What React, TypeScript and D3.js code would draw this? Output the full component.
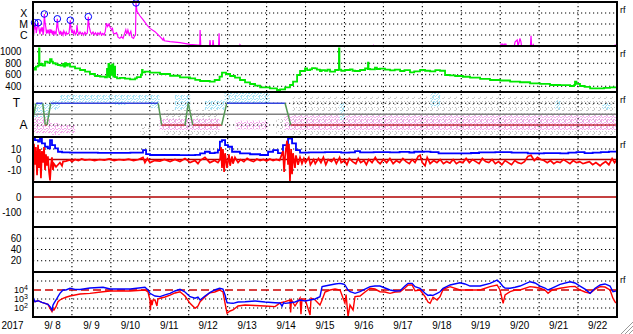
import React from 'react';
import * as d3 from 'd3';

// ---------------- DATA ----------------
const yearLabel = '2017';
const dayLabels = ['9/ 8', '9/ 9', '9/10', '9/11', '9/12', '9/13', '9/14', '9/15', '9/16', '9/17', '9/18', '9/19', '9/20', '9/21', '9/22'];

// GOES X-ray flux [hour since 9/8 00UT, W/m2]
const xrayFlux: [number, number][] = [
  [0, 2e-6], [0.3, 4e-6], [0.5, 1.2e-6], [0.7, 6e-6], [1.0, 1.3e-5], [1.5, 3e-6], [1.8, 6e-6], [2.0, 1.5e-6], [2.5, 4e-6],
  [3.2, 1.3e-5], [3.8, 3e-6], [4.3, 1.2e-6], [4.6, 3e-6], [5.0, 4e-6], [5.5, 2e-6], [5.8, 5e-6], [6.2, 1.0e-6], [6.6, 2.5e-6],
  [7.0, 8.1e-5], [7.4, 1.5e-5], [8.0, 4e-6], [8.3, 1.3e-6], [8.6, 3e-6], [9.0, 1.8e-6], [9.5, 2.5e-6], [10.0, 1.2e-6],
  [10.5, 3.5e-6], [11.0, 1.5e-6], [11.5, 3e-6], [12.0, 1.1e-6], [12.5, 2.4e-6], [13.0, 1.2e-6], [13.5, 2e-6], [14.2, 1.2e-6],
  [15.0, 2.95e-5], [15.4, 5e-6], [16.0, 2e-6], [16.5, 1.1e-6], [17, 2.4e-6], [17.5, 1.2e-6], [18, 1.6e-6], [18.5, 1.0e-6],
  [19, 2.3e-6], [20, 1.1e-6], [20.5, 1.8e-6], [21, 1.2e-6], [22.2, 1.5e-6], [23.0, 2.2e-5], [23.4, 4e-6], [24, 1.5e-6],
  [24.5, 2.6e-6], [25, 1.3e-6], [25.6, 2.2e-6], [26.2, 1.1e-6], [26.8, 1.5e-6], [27.1, 8e-6], [27.6, 2e-6], [28.3, 1.1e-6],
  [29, 1.9e-6], [29.8, 1.2e-6], [30.5, 1.6e-6], [31.2, 1.0e-6], [32, 1.8e-6], [32.8, 1.2e-6], [33.5, 1.5e-6], [34.1, 4.6e-5],
  [34.6, 6e-6], [35.4, 2e-6], [36.2, 1.2e-6], [37, 1.9e-6], [37.8, 1.1e-6], [38.5, 1.6e-6], [39.2, 1.0e-6], [40, 1.6e-6],
  [40.8, 1.1e-6], [41.5, 1.8e-6], [42.2, 1.0e-6], [43, 1.4e-6], [43.8, 1.0e-6], [44.5, 2e-6], [45.3, 1.2e-5], [46, 6e-6],
  [46.8, 1e-5], [47.5, 5e-6], [48.5, 3e-6], [49.0, 4e-6], [49.5, 1.5e-6], [50.5, 1.3e-6], [51.5, 1.6e-6], [52.5, 6e-7],
  [53.5, 5e-7], [54.5, 7e-7], [55.5, 5e-7], [56.5, 1.4e-6], [57.2, 3e-6], [57.8, 1.2e-6], [58.5, 2.8e-6], [59.3, 1e-6],
  [60.3, 2.2e-6], [61.0, 6e-7], [62.0, 5e-7], [62.6, 8e-7], [63.2, 1e-6], [63.5, 8.2e-4], [64.1, 1.4e-4], [65.9, 5.6e-5],
  [67.8, 2.5e-5], [70.3, 8e-6], [72.1, 4e-6], [75.2, 2e-6], [78.3, 7e-7], [80.1, 3.5e-7], [80.5, 5e-7], [81, 3e-7],
  [84.5, 2.5e-7], [90.6, 2e-7], [96.8, 1.4e-7], [101.7, 1.2e-7], [102.8, 1.2e-7], [103, 2.8e-6], [103.4, 1.2e-7], [104, 1e-7],
  [106, 1.05e-7], [108.8, 1.0e-7], [109.1, 3.5e-7], [109.5, 1e-7], [110.7, 1e-7], [111, 3.5e-7], [111.4, 1e-7], [114.4, 9e-8],
  [114.7, 1.4e-6], [115, 8e-8], [116, 8e-8], [125.1, 1.05e-7], [125.5, 8e-8], [127.3, 8e-8], [127.6, 1.3e-7], [128.5, 8e-8],
  [136.2, 1.05e-7], [137, 8e-8], [209.6, 8e-8], [209.8, 1.05e-7], [210.2, 8e-8], [288.3, 8e-8], [288.5, 1.5e-7],
  [289.5, 1.5e-7], [290, 8e-8], [290.5, 1.5e-7], [291.5, 1.5e-7], [292, 8e-8], [296.5, 8e-8], [297.2, 2.4e-7], [298.5, 3.5e-7],
  [299, 9e-8], [300.2, 5e-7], [300.8, 2.4e-7], [301.2, 8e-8], [306.6, 8e-8], [307, 8.7e-7], [307.4, 8e-8], [308.4, 1.3e-7],
  [308.8, 8e-8], [352.4, 8e-8], [352.6, 1.05e-7], [352.8, 8e-8], [358.5, 8e-8], [358.8, 1.2e-7], [360, 1.2e-7],
];
const flareMarks: [number, number][] = [[1.0, 1.3e-5], [3.2, 1.3e-5], [7.0, 8.1e-5], [15.0, 2.95e-5], [23.0, 2.2e-5], [34.1, 4.6e-5], [63.5, 8.2e-4]];
const xrayClassLabels = ['C', 'M', 'X'];
const xrayClassFlux = [1e-6, 1e-5, 1e-4];

// Solar wind speed [hour, km/s]
const windSpeed: [number, number][] = [
  [0, 720], [1, 690], [1.8, 740], [3.0, 760], [3.7, 1060], [4.0, 770], [5, 790], [6, 760], [7.4, 827], [9, 810], [10.5, 870],
  [11.5, 830], [12.3, 800], [14, 780], [15.4, 770], [17, 760], [18.5, 790], [19.2, 740], [19.7, 800], [20.5, 760], [21.5, 790],
  [22.8, 740], [25.9, 712], [29, 683], [32.1, 653], [35.1, 613], [38.2, 578], [41.3, 566], [44.4, 555], [45.6, 700], [46, 580],
  [46.5, 790], [47, 560], [47.5, 760], [48.2, 600], [48.8, 780], [49.5, 570], [50, 740], [50.6, 560], [51.8, 538], [53.6, 545],
  [56.7, 531], [59.8, 521], [62.9, 538], [64, 560], [66.5, 600], [67.2, 683], [67.6, 640], [69, 653], [72.1, 636], [78.3, 613],
  [84.5, 583], [90.6, 555], [96.8, 538], [100, 510], [103, 491], [109, 479], [112, 509], [115, 566], [116.5, 636], [119, 613],
  [121.5, 578], [124.5, 549], [127.6, 509], [130.7, 469], [133.8, 439], [136.9, 410], [140, 382], [146, 364], [150.4, 335],
  [152.3, 345], [155.4, 382], [158.4, 422], [160.3, 479], [162.8, 596], [164.6, 665], [167.7, 712], [169, 680], [170.8, 694],
  [172, 715], [173.9, 712], [175, 690], [176.9, 665], [178, 680], [180, 670], [181.5, 690], [183.1, 653], [186.2, 683],
  [188.4, 690], [188.6, 1060], [188.9, 690], [190, 670], [192.3, 683], [195.4, 694], [197, 670], [198.5, 665], [201.6, 683],
  [204.7, 712], [206.3, 700], [206.5, 810], [206.8, 700], [207.8, 694], [210.8, 723], [212, 700], [213.9, 705], [217, 690],
  [220.1, 677], [223, 690], [226.3, 665], [229, 680], [232.4, 643], [235, 660], [238.6, 683], [241.7, 670], [244.8, 660],
  [248, 680], [250.9, 670], [254, 596], [257, 590], [260.2, 578], [265, 565], [269.4, 549], [275.6, 530], [281.7, 509],
  [287.9, 500], [294.1, 479], [300.2, 470], [306.4, 451], [312.6, 440], [318.7, 422], [324.9, 420], [331.1, 404], [333.5, 420],
  [334.1, 479], [335, 440], [337.2, 404], [340, 390], [343.4, 364], [349.6, 364], [352, 372], [355.7, 382], [360, 392],
];
const speedTicks = [400, 600, 800, 1000];

// T/A status (1 = T, 0 = A) [hour, level]
const taStatus: [number, number][] = [
  [0, 0.3], [1.85, 1], [6.0, 1], [7.6, 0], [8.6, 0], [10.9, 1], [77.2, 1], [79.3, 0], [93.7, 0], [95.7, 1], [98.5, 0],
  [116.3, 0], [119.4, 1], [155.4, 1], [158.9, 0], [360, 0],
];
// scattered points envelopes [hourStart, hourEnd, low, high]
const taBlueDots: [number, number, number, number][] = [
  [0, 10.5, 0.37, 1.01], [10.5, 16.6, 0.69, 1.15], [16.6, 50, 1.06, 1.38], [50, 57, 0.92, 1.4], [57, 72, 1.06, 1.38],
  [72, 78, 0.78, 1.38], [87.5, 97, 0.69, 1.38], [106, 118, 0.69, 1.15], [118, 146, 1.01, 1.5], [189, 192, 0.23, 1.01],
  [245, 251, 0.83, 1.47], [322, 325, 0.69, 1.15], [351, 356, 0.69, 1.01],
];
const taPinkDots: [number, number, number, number][] = [
  [0, 10.5, -0.37, 0.37], [10.5, 16.6, -0.46, 0.09], [16.6, 26, -0.37, 0], [78, 115, -0.23, 0.32], [125, 145, -0.2, 0.2],
  [155, 360, -0.23, 0.46],
];
const taGreyDots: [number, number, number, number][] = [
  [0, 4, 0, 0.46], [66, 72, -0.55, -0.09], [80, 115, -0.5, 0.7], [150, 156, -0.55, 0.3], [160, 360, -0.55, 1.3],
];

// IMF [hour, nT]
const imfBt: [number, number][] = [
  [0, 20], [1.2, 18.6], [3.1, 17], [4.3, 20], [5.5, 15.4], [7.4, 12.2], [9.2, 10.7], [10.5, 18.6], [11.7, 13.8], [13.6, 10.7],
  [15.4, 7.4], [17.9, 6.8], [22.8, 6.5], [40, 6.3], [60, 6.6], [66, 6.5], [67.8, 9], [69.7, 5.2], [72.1, 4.3], [90, 4.2],
  [100, 4.5], [103, 5.9], [106, 7.4], [109, 6], [112, 6.5], [114, 9], [115.2, 17], [116.5, 18.6], [118.4, 13.8], [120.2, 12.2],
  [122.7, 7.4], [127.6, 5.9], [133.8, 5], [140, 4.3], [144.9, 7.4], [148, 9], [151, 6], [154.1, 13.8], [157.2, 20], [159.7, 15.4],
  [162.1, 9], [164.6, 6.5], [170, 6.8], [180, 7], [190, 6.6], [195, 6.8], [198.5, 8], [201.6, 6.9], [210, 7], [220, 6.8],
  [226, 7.2], [232, 6.7], [235, 7.4], [241, 7.5], [245, 7], [250, 5.9], [260, 5.8], [270, 6.2], [275, 6.8], [285, 7], [295, 6.6],
  [305, 5.9], [315, 6], [325, 5.8], [330, 6.5], [335, 7], [340, 6], [345, 6.6], [350, 7], [355, 7.6], [360, 6.5],
];
const imfBz: [number, number][] = [
  [0, -3], [0.3, -20], [0.6, 15], [1.2, -5], [1.8, 12], [2.5, -15], [3.1, 14], [3.7, -8], [4.3, 10], [4.9, -18], [5.5, 8],
  [6.2, -3], [6.8, 12], [7.4, -10], [8.0, 5], [8.6, -6], [9.2, 3], [9.9, -12], [10.5, -20], [11.1, -5], [11.7, 2], [12.3, -10],
  [12.9, -4], [14.2, -7], [15.4, -5], [16.6, -3], [17.9, -6], [18.5, -2], [20.3, -1.5], [22.8, -0.5], [24, -2], [25.9, 0],
  [28, -1], [30, 0.5], [32, -0.5], [35, 0], [38, -1], [41, 0], [44, -0.5], [47, 0.5], [50, -1], [53, 0], [56, -0.5], [59, 0.3],
  [62, -1], [65, 0], [67.8, 2], [69, -3], [70.5, 1], [72.1, -3], [75, -1], [78.3, -1.5], [81, 0], [84.5, -2], [87.5, 0],
  [90.6, -2], [93.7, 1], [96.8, -3], [99.9, -1], [101.7, -4], [103, -1], [106, 2], [109, -3], [112, -1], [114, -3], [115.3, 0],
  [115.9, 12], [116.5, -8], [117.1, 10], [117.8, -12], [118.4, 6], [119.6, -8], [120.8, 5], [121.5, -6], [122.7, 3],
  [123.3, -4], [124.5, 2], [126.4, -3], [128, 0], [130, -2], [132, 1], [134, -1], [136, -2], [138, 0.5], [140, -1], [142, 0],
  [144, -1.5], [146, 0.5], [148, -1], [150, 0], [152, -1], [154.1, 8], [154.8, -12], [155.4, 3], [156.6, 18], [157.2, -5],
  [157.8, 15], [158.4, -21], [159.1, 10], [159.7, -14], [160.3, 6], [161.5, -8], [162.1, 4], [163.4, -5], [164.6, 2],
  [165.8, -4], [167, 1], [168, -3], [170, 2], [171, -5], [173, 0], [174, -4], [176, 1], [177.5, -3], [179, 2], [180.5, -5],
  [182, 0], [184, -2], [185.5, 1], [187, -4], [189, 2], [190, -3], [192, -1], [193.5, -5], [195, 1], [197, -2], [199, -4],
  [200.5, 1], [202, -3], [204, -1], [205.5, -5], [207, 0], [209, -3], [211, 2], [212.5, -2], [214, -4], [216, 0], [218, -3],
  [220, 1], [222, -4], [224, -1], [226, -3], [228, 1], [230, -2], [232, -4], [233.7, 0], [235.5, -3], [237.4, 3], [238.6, 4],
  [240, -3], [241.7, -6], [243, 2], [244.8, -4], [247, -1], [249, -3], [251, 0], [253, -4], [255, -2], [257, -3.5], [259, 0],
  [261, -4], [263, -2], [265, -3], [267, 1], [269, -3], [271, 0], [273, -2], [275, -4], [277, 1], [279, -2], [281, -3],
  [283, 0], [285, -4], [287, -2], [289, -5], [291, -1], [293, -3], [295, -5], [297, -1], [299, -3], [301, -4], [303, -2],
  [305, 3], [307, 4], [309, -1], [311, 2], [313, 0], [315, -1], [317, -3], [319, -1], [321, -4], [323, -2], [325, -3],
  [327, 0], [329, -2], [331, -4], [333, -1], [335, -3], [337, -2], [339, -4], [341, -3], [343, -2], [345, -5], [347, -3],
  [349.6, -6], [351, -4], [353, -2], [355, -5], [357, 1], [358.5, -3], [360, 0],
];
const imfTicks = [-10, 0, 10];

const dstTicks = [-100, 0];
const kpTicks = [20, 40, 60];

// Electron flux, log10(pfu) [hour, log10]
const electronBlue: [number, number][] = [
  [0, 3.26], [1.2, 2.7], [3.1, 2.81], [5.5, 2.63], [7.4, 2.52], [9.2, 2.41], [10.5, 2.15], [11.7, 1.78], [12.3, 2.3],
  [12.9, 2.52], [14.2, 2.89], [15.4, 3.26], [16.6, 3.63], [18.5, 4.0], [20.3, 4.0], [22.8, 4.19], [25.9, 4.07], [29, 4.05],
  [35.1, 4.22], [43.2, 4.3], [47.5, 4.11], [60, 4.11], [69, 4.3], [70.9, 4.0], [72.1, 3.63], [75.2, 3.33], [78.3, 3.26],
  [81.4, 3.45], [84.5, 3.63], [87.5, 3.89], [90.6, 4.07], [93.7, 3.78], [96.8, 3.26], [99.9, 3.08], [101.7, 3.2], [103, 2.89],
  [106, 3.33], [109, 3.7], [112, 4.0], [115, 4.19], [117.1, 4.1], [118.4, 3.44], [119.6, 2.59], [121.5, 2.55], [123.3, 2.52],
  [126.4, 2.67], [130.7, 2.7], [136.9, 2.78], [143, 2.67], [149.2, 2.59], [152.3, 2.56], [153.5, 2.2], [154.5, 2.6],
  [155.4, 2.52], [158.4, 2.59], [161.5, 2.67], [164.6, 2.89], [167.7, 2.78], [170.8, 2.89], [173.9, 3.0], [176.9, 3.26],
  [178.2, 4.37], [180, 4.44], [183.1, 4.56], [186.2, 4.67], [189.3, 4.74], [191.1, 4.67], [192.3, 4.56], [194.2, 4.0],
  [195.4, 3.81], [197.3, 3.7], [198.5, 3.63], [201.6, 3.81], [204.7, 4.11], [207.8, 4.37], [210.8, 4.44], [213.9, 4.44],
  [217, 4.22], [220.1, 4.0], [223.2, 3.89], [226.3, 3.92], [229.3, 4.44], [231.2, 4.74], [233.7, 4.74], [235.5, 4.37],
  [238.6, 4.19], [241.7, 3.63], [243.5, 3.4], [244.8, 3.44], [246.6, 3.4], [249.1, 3.63], [250.9, 3.8], [252.8, 4.19],
  [257.1, 4.56], [263.2, 4.81], [266.3, 4.67], [269.4, 4.44], [275.6, 4.44], [281.7, 4.74], [286.1, 5.11], [287.9, 4.8],
  [289.8, 4.37], [291, 4.22], [294.1, 4.19], [297.2, 4.3], [300.2, 4.44], [306.4, 4.92], [309.5, 4.78], [312.6, 4.44],
  [315.6, 4.22], [317.5, 4.0], [320, 4.22], [324.9, 4.63], [331.1, 4.92], [334.1, 4.78], [337.2, 4.44], [340.3, 4.1],
  [343.4, 3.63], [346.5, 4.2], [349.6, 4.56], [352.6, 4.67], [355.7, 4.44], [357.5, 3.81], [360, 3.9],
];
const electronRed: [number, number][] = [
  [0, 2.89], [1.2, 2.7], [3.1, 2.81], [5.5, 2.63], [7.4, 2.52], [9.2, 2.41], [10.5, 1.96], [11.7, 1.59], [12.3, 1.9],
  [12.9, 1.78], [14.2, 2.15], [15.4, 2.7], [16.6, 2.89], [18.5, 3.08], [20.3, 3.19], [22.8, 3.33], [25.9, 3.44], [29, 3.56],
  [35.1, 3.63], [43.2, 3.81], [47.5, 3.89], [60, 3.89], [69, 4.0], [70.9, 3.78], [72.1, 2.89], [72.4, 1.78], [72.8, 2.9],
  [73.4, 2.33], [74, 2.9], [75.2, 2.89], [76.4, 2.22], [77, 3.0], [78.3, 3.08], [81.4, 3.22], [84.5, 3.44], [87.5, 3.67],
  [90.6, 3.81], [93.7, 3.33], [96.8, 2.52], [99.9, 1.97], [101.7, 2.22], [103, 2.7], [106, 3.22], [109, 3.7], [112, 3.78],
  [115, 4.0], [117.1, 3.78], [118.4, 2.52], [119.6, 1.41], [121.5, 1.67], [123.3, 1.78], [126.4, 2.22], [130.7, 2.33],
  [136.9, 2.28], [143, 2.22], [149.2, 2.15], [152.3, 2.56], [155.4, 2.7], [158.4, 2.89], [158.8, 1.5], [159.3, 2.9],
  [161.5, 2.22], [164.6, 3.11], [165.2, 1.3], [165.8, 3.0], [167.7, 3.0], [170.8, 1.22], [171.4, 3.1], [173.9, 2.89],
  [176.9, 2.33], [178.2, 2.89], [180, 3.78], [183.1, 4.0], [186.2, 4.11], [189.3, 4.0], [191.1, 3.11], [192.3, 2.56],
  [193, 3.5], [194.2, 1.03], [195.4, 2.33], [197.3, 1.78], [198.5, 3.26], [201.6, 3.33], [204.7, 3.78], [207.8, 4.19],
  [210.8, 4.11], [213.9, 3.81], [217, 3.78], [220.1, 3.63], [223.2, 3.78], [226.3, 3.81], [229.3, 4.22], [231.2, 4.56],
  [233.7, 4.56], [235.5, 3.92], [238.6, 4.0], [241.7, 3.26], [243.5, 2.67], [244.8, 2.52], [246.6, 3.2], [249.1, 2.89],
  [250.9, 3.26], [252.8, 4.07], [257.1, 4.37], [263.2, 4.0], [269.4, 4.0], [275.6, 4.0], [281.7, 4.37], [286.1, 4.56],
  [287.9, 4.0], [289.8, 2.52], [291, 3.44], [294.1, 3.81], [297.2, 4.0], [300.2, 4.0], [306.4, 4.37], [309.5, 4.3],
  [312.6, 4.19], [315.6, 4.0], [317.5, 3.63], [320, 4.0], [324.9, 4.19], [331.1, 4.37], [334.1, 4.4], [337.2, 4.0],
  [340.3, 3.78], [343.4, 3.63], [346.5, 4.1], [349.6, 4.37], [352.6, 4.33], [355.7, 4.0], [357.5, 3.08], [358.8, 2.67],
  [360, 2.52],
];
const electronTickExp = [2, 3, 4];
const electronAlertExp = 4;

// ---------------- LAYOUT ----------------
const X0 = 33, X1 = 617;
const FONT = 'Liberation Sans, Arial, sans-serif';
const P = [
  { top: 2, bot: 46 }, { top: 46, bot: 92 }, { top: 92, bot: 137 }, { top: 137, bot: 182 },
  { top: 182, bot: 227 }, { top: 227, bot: 272 }, { top: 272, bot: 317 },
];

const x = d3.scaleLinear().domain([0, 360]).range([X0, X1]);
const yX = d3.scaleLog().domain([1e-7, 1e-3]).range([P[0].bot, P[0].top]);
const yV = d3.scaleLinear().domain([300, 1100]).range([P[1].bot, P[1].top]);
const yT = d3.scaleLinear().domain([-0.55, 1.52]).range([P[2].bot, P[2].top]);
const yB = d3.scaleLinear().domain([-21.5, 21.5]).range([P[3].bot, P[3].top]);
const yD = d3.scaleLinear().domain([-200, 100]).range([P[4].bot, P[4].top]);
const yK = d3.scaleLinear().domain([0, 80]).range([P[5].bot, P[5].top]);
const yE = d3.scaleLinear().domain([1, 6]).range([P[6].bot, P[6].top]);

const lineOf = (ys: (v: number) => number, curve: any = d3.curveLinear) =>
  d3.line<[number, number]>().x(d => x(d[0])).y(d => ys(d[1])).curve(curve);

function Lbl({ x: tx, y: ty, text, size = 11, anchor = 'end', sx = 0.88 }: any) {
  return (
    <text transform={`translate(${tx},${ty}) scale(${sx},1)`} textAnchor={anchor} dominantBaseline="central"
      fontSize={size} fontFamily={FONT} fill="#000">{text}</text>
  );
}

const dotted = { stroke: '#000', strokeWidth: 1.1, strokeDasharray: '1.2,2.8' };

function HGrid({ ys }: { ys: number[] }) {
  return <>{ys.map((yy, i) => <line key={i} x1={X0} x2={X1} y1={yy} y2={yy} {...dotted} />)}</>;
}

function Speckle({ id, color, dense }: { id: string; color: string; dense: boolean }) {
  const pts = dense
    ? [[0, 0, 2, 1], [3, 0, 1, 1], [1, 1, 1, 2], [4, 2, 2, 1], [0, 3, 1, 1], [2, 3, 2, 1], [5, 4, 1, 1], [1, 5, 2, 1], [4, 5, 1, 1]]
    : [[0, 0, 1, 2], [4, 2, 2, 1], [2, 5, 1, 1], [5, 5, 1, 1]];
  return (
    <pattern id={id} width="6" height="6" patternUnits="userSpaceOnUse">
      {pts.map((p, i) => <rect key={i} x={p[0]} y={p[1]} width={p[2]} height={p[3]} fill={color} />)}
    </pattern>
  );
}

export default function App() {
  const dayBounds = d3.range(1, 15).map(k => x(k * 24));
  const spanRects = (spans: [number, number, number, number][], fill: string, key: string) =>
    spans.map((s, i) => (
      <rect key={key + i} x={x(s[0])} width={x(s[1]) - x(s[0])} y={yT(s[3])} height={yT(s[2]) - yT(s[3])} fill={fill} />
    ));

  const taSegs = taStatus.slice(1).map((d, i) => {
    const a = taStatus[i];
    const color = a[1] === 1 && d[1] === 1 ? '#3344dd' : a[1] === 0 && d[1] === 0 ? '#cc3344' : '#559955';
    return <line key={i} x1={x(a[0])} y1={yT(a[1])} x2={x(d[0])} y2={yT(d[1])} stroke={color} strokeWidth={1.5} />;
  });

  return (
    <div style={{ position: 'fixed', left: 0, top: 0 }}>
      <svg width={633} height={334} style={{ display: 'block', background: '#fff' }}>
        <defs>
          {P.map((p, i) => (
            <clipPath key={i} id={`c${i}`}><rect x={X0} y={p.top} width={X1 - X0} height={p.bot - p.top} /></clipPath>
          ))}
          <Speckle id="pBlue" color="#a4e2f6" dense={true} />
          <Speckle id="pPink" color="#f4aaec" dense={true} />
          <Speckle id="pGrey" color="#c4c4c4" dense={false} />
        </defs>

        {/* T/A scattered points */}
        <g clipPath="url(#c2)">
          {spanRects(taGreyDots, 'url(#pGrey)', 'g')}
          {spanRects(taPinkDots, 'url(#pPink)', 'p')}
          {spanRects(taBlueDots, 'url(#pBlue)', 'b')}
        </g>

        {/* grids */}
        {dayBounds.map((xx, i) => <line key={i} x1={xx} x2={xx} y1={P[0].top} y2={P[6].bot} {...dotted} />)}
        <HGrid ys={xrayClassFlux.map(v => yX(v))} />
        <HGrid ys={speedTicks.map(v => yV(v))} />
        <HGrid ys={[yT(1), yT(0)]} />
        <HGrid ys={[yB(10), yB(-10)]} />
        <HGrid ys={[yD(-100)]} />
        <HGrid ys={kpTicks.map(v => yK(v))} />
        <HGrid ys={[2, 3, 5].map(v => yE(v))} />

        {/* reference lines */}
        <line x1={X0} x2={X1} y1={yT(0.5)} y2={yT(0.5)} stroke="#808080" strokeWidth={1.5} />
        <line x1={X0} x2={X1} y1={yB(0)} y2={yB(0)} stroke="#b00000" strokeWidth={1.5} />
        <line x1={X0} x2={X1} y1={yD(0)} y2={yD(0)} stroke="#b00000" strokeWidth={1.5} />
        <line x1={X0} x2={X1} y1={yE(electronAlertExp)} y2={yE(electronAlertExp)} stroke="#cc0000" strokeWidth={1.5} strokeDasharray="8,4" />

        {/* X-ray */}
        <g clipPath="url(#c0)">
          <path d={lineOf(yX)(xrayFlux) || ''} fill="none" stroke="#ff00ff" strokeWidth={1.2} />
        </g>
        {flareMarks.map((f, i) => (
          <circle key={i} cx={x(f[0])} cy={yX(f[1])} r={3.3} fill="none" stroke="#0000ff" strokeWidth={1} />
        ))}

        {/* speed */}
        <g clipPath="url(#c1)">
          <path d={lineOf(yV, d3.curveStepAfter)(windSpeed) || ''} fill="none" stroke="#00e800" strokeWidth={1.8} />
        </g>

        {/* T/A status */}
        <g clipPath="url(#c2)">{taSegs}</g>

        {/* IMF */}
        <g clipPath="url(#c3)">
          <path d={lineOf(yB, d3.curveStepAfter)(imfBt) || ''} fill="none" stroke="#0000ff" strokeWidth={1.8} />
          <path d={lineOf(yB)(imfBz) || ''} fill="none" stroke="#ff0000" strokeWidth={1.7} />
        </g>

        {/* electrons */}
        <g clipPath="url(#c6)">
          <path d={lineOf(yE)(electronRed) || ''} fill="none" stroke="#ff0000" strokeWidth={1.4} />
          <path d={lineOf(yE)(electronBlue) || ''} fill="none" stroke="#0000ff" strokeWidth={1.4} />
        </g>

        {/* panel frames */}
        {[...P.map(p => p.top), P[6].bot].map((yy, i) => (
          <line key={i} x1={X0} x2={X1} y1={yy} y2={yy} stroke="#000" strokeWidth={2} />
        ))}
        <line x1={X0} x2={X0} y1={P[0].top - 1} y2={P[6].bot + 1} stroke="#000" strokeWidth={2} />
        <line x1={X1} x2={X1} y1={P[0].top - 1} y2={P[6].bot + 1} stroke="#000" strokeWidth={2} />

        {/* left labels */}
        {xrayClassLabels.map((t, i) => <Lbl key={t} x={23.7} y={yX(xrayClassFlux[i])} text={t} size={10.5} anchor="middle" sx={1} />)}
        {speedTicks.map(v => <Lbl key={v} x={21.5} y={yV(v)} text={String(v)} />)}
        <Lbl x={16.5} y={yT(1)} text="T" size={12} anchor="middle" sx={1} />
        <Lbl x={23.5} y={yT(0)} text="A" size={12} anchor="middle" sx={1} />
        {imfTicks.map(v => <Lbl key={v} x={21.5} y={yB(v)} text={String(v)} />)}
        {dstTicks.map(v => <Lbl key={v} x={21.5} y={yD(v)} text={String(v)} />)}
        {kpTicks.map(v => <Lbl key={v} x={21.5} y={yK(v)} text={String(v)} />)}
        {electronTickExp.map(e => (
          <text key={e} x={14} y={yE(e) + 3} fontSize={9} fontFamily={FONT}>
            10<tspan dy={-3.5} fontSize={7}>{e}</tspan>
          </text>
        ))}

        {/* right rf labels */}
        {[P[0], P[1], P[2], P[3], P[6]].map((p, i) => (
          <text key={i} x={620} y={p.top + 11} fontSize={9} fontFamily={FONT}>rf</text>
        ))}

        {/* x labels */}
        <Lbl x={1.5} y={325} text={yearLabel} anchor="start" sx={0.9} />
        {dayLabels.map((t, i) => <Lbl key={t} x={x(i * 24 + 12)} y={325} text={t} anchor="middle" sx={0.9} />)}

        {/* resize grip */}
        {[0, 4, 8].map(o => <line key={o} x1={621 + o} y1={334} x2={633} y2={322 + o} stroke="#999" strokeWidth={1} />)}
      </svg>
    </div>
  );
}
